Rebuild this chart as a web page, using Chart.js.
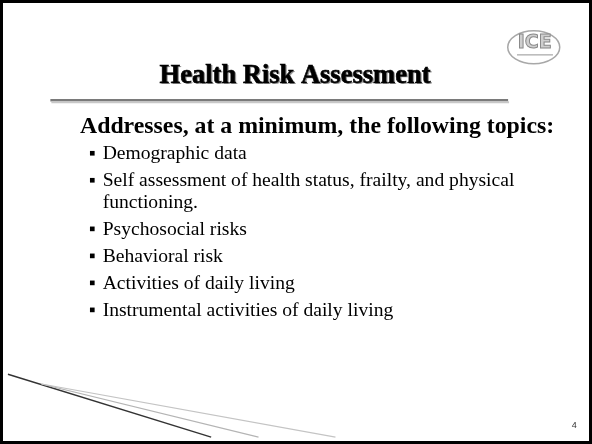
<!DOCTYPE html>
<html>
<head>
<meta charset="utf-8">
<script src="https://cdn.jsdelivr.net/npm/chart.js@4/dist/chart.umd.min.js"></script>
<style>
  html, body { margin: 0; padding: 0; background: #fff; }
  #slide { display: block; }
</style>
</head>
<body>
<canvas id="slide" width="592" height="444"></canvas>
<script>
// slide content
const titleText = 'Health Risk Assessment';
const headingText = 'Addresses, at a minimum, the following topics:';
const bulletItems = [
    ['Demographic data'],
    ['Self assessment of health status, frailty, and physical', 'functioning.'],
    ['Psychosocial risks'],
    ['Behavioral risk'],
    ['Activities of daily living'],
    ['Instrumental activities of daily living']
];
const pageNumber = '4';
const logoText = 'ICE';

// decorative lines (slide coordinates)
const ruleLine = [{ x: 47, y: 98 }, { x: 511, y: 98 }];
const swooshDark = [{ x: 4, y: 377 }, { x: 210, y: 441 }];
const swooshGrayA = [{ x: 38, y: 387 }, { x: 258, y: 441 }];
const swooshGrayB = [{ x: 38, y: 387 }, { x: 336, y: 441 }];

// bullet layout
const bulletTop = 153;
const bulletStep = 27.5;
const wrapStep = 22;
const bulletX = 89.5;
const textX = 100;

// bullet markers, one per item
const bulletMarks = [];
let yy = bulletTop;
bulletItems.forEach(item => {
    bulletMarks.push({ x: bulletX, y: yy - 1 });
    yy += bulletStep + (item.length - 1) * wrapStep;
});

const slideText = {
    id: 'slideText',
    beforeDatasetsDraw(chart) {
        const ctx = chart.ctx;
        const sx = chart.scales.x, sy = chart.scales.y;
        ctx.save();

        // title with shadow
        ctx.textAlign = 'center';
        ctx.textBaseline = 'middle';
        ctx.font = 'bold 26.5px "Liberation Serif"';
        ctx.fillStyle = '#9a9a9a';
        ctx.fillText(titleText, sx.getPixelForValue(295) + 1.5, sy.getPixelForValue(73) + 1.5);
        ctx.fillStyle = '#000';
        ctx.strokeStyle = '#000';
        ctx.lineWidth = 0.6;
        ctx.fillText(titleText, sx.getPixelForValue(295), sy.getPixelForValue(73));
        ctx.strokeText(titleText, sx.getPixelForValue(295), sy.getPixelForValue(73));

        // logo
        ctx.strokeStyle = '#a8a8a8';
        ctx.lineWidth = 1.5;
        ctx.beginPath();
        ctx.ellipse(sx.getPixelForValue(537), sy.getPixelForValue(44), 26, 16.5, 0, 0, Math.PI * 2);
        ctx.stroke();
        ctx.font = 'bold 19px "DejaVu Sans"';
        ctx.fillStyle = '#cfcfcf';
        ctx.strokeStyle = '#8a8a8a';
        ctx.lineWidth = 1;
        ctx.fillText(logoText, sx.getPixelForValue(538), sy.getPixelForValue(40));
        ctx.strokeText(logoText, sx.getPixelForValue(538), sy.getPixelForValue(40));
        ctx.fillStyle = '#b8b8b8';
        ctx.fillRect(sx.getPixelForValue(520), sy.getPixelForValue(51), 36, 1.5);

        // heading
        ctx.textAlign = 'left';
        ctx.fillStyle = '#000';
        ctx.font = 'bold 23.8px "Liberation Serif"';
        ctx.fillText(headingText, sx.getPixelForValue(77), sy.getPixelForValue(125));

        // bullet texts
        ctx.font = '19.6px "Liberation Serif"';
        let y = bulletTop;
        bulletItems.forEach(item => {
            item.forEach((line, i) => {
                ctx.fillText(line, sx.getPixelForValue(textX), sy.getPixelForValue(y + i * wrapStep));
            });
            y += bulletStep + (item.length - 1) * wrapStep;
        });

        // page number
        ctx.textAlign = 'center';
        ctx.font = '9px "Liberation Sans"';
        ctx.fillStyle = '#333';
        ctx.fillText(pageNumber, sx.getPixelForValue(578), sy.getPixelForValue(429));
        ctx.restore();
    },
    afterDraw(chart) {
        const ctx = chart.ctx;
        ctx.save();
        ctx.strokeStyle = '#000';
        ctx.lineWidth = 3;
        ctx.strokeRect(1.5, 1.5, chart.width - 3, chart.height - 3);
        ctx.restore();
    }
};

new Chart(document.getElementById('slide').getContext('2d'), {
    type: 'scatter',
    data: {
        datasets: [
            { data: ruleLine.map(p => ({ x: p.x + 1, y: p.y + 2 })), showLine: true, borderColor: '#c8c8c8', borderWidth: 2, pointRadius: 0 },
            { data: ruleLine, showLine: true, borderColor: '#7a7a7a', borderWidth: 2.5, pointRadius: 0 },
            { data: swooshGrayB, showLine: true, borderColor: '#c4c4c4', borderWidth: 1.2, pointRadius: 0 },
            { data: swooshGrayA, showLine: true, borderColor: '#b4b4b4', borderWidth: 1.2, pointRadius: 0 },
            { data: swooshDark, showLine: true, borderColor: '#333', borderWidth: 1.4, pointRadius: 0 },
            { data: bulletMarks, pointStyle: 'rect', pointRadius: 3.3, backgroundColor: '#000', borderWidth: 0 }
        ]
    },
    options: {
        responsive: false,
        animation: false,
        layout: { padding: 0 },
        scales: {
            x: { type: 'linear', min: 0, max: 592, display: false },
            y: { type: 'linear', min: 0, max: 444, reverse: true, display: false }
        },
        plugins: {
            legend: { display: false },
            tooltip: { enabled: false }
        }
    },
    plugins: [slideText]
});
</script>
</body>
</html>
